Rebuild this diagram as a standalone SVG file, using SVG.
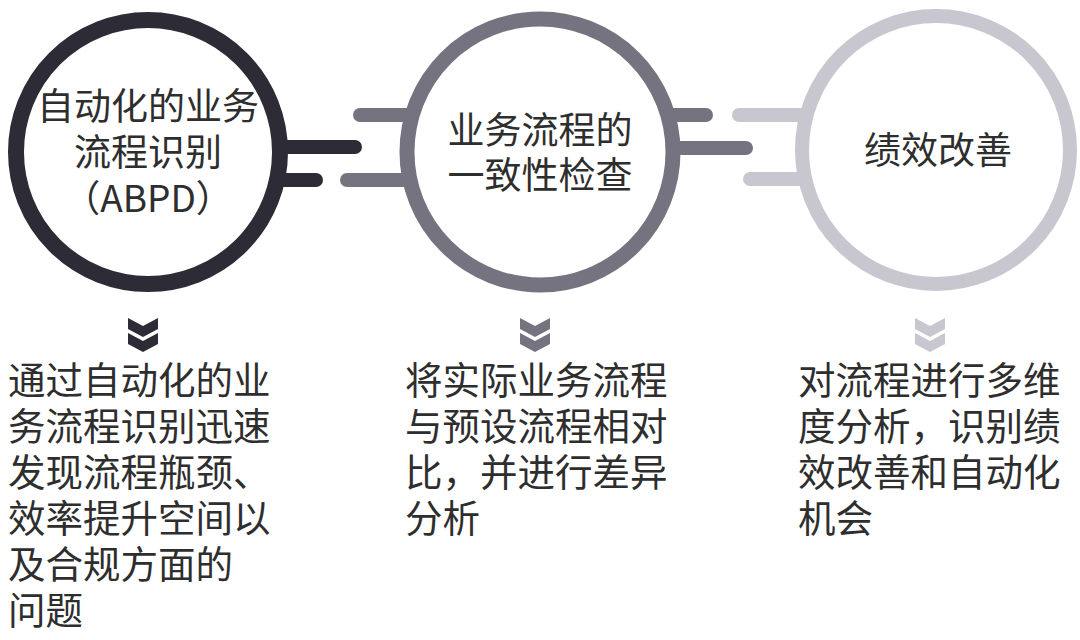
<svg xmlns="http://www.w3.org/2000/svg" xmlns:xlink="http://www.w3.org/1999/xlink" width="1080" height="640" viewBox="0 0 1080 640">
<style>
.t{font-family:"Noto Sans CJK SC","Noto Sans",sans-serif;font-size:37px;fill:#2e2e2e;}
.b{font-size:37.5px;}
.c{text-anchor:middle;}
.ln{fill:none;stroke-width:14;stroke-linecap:round;}
.ring{fill:#fff;}
</style>
<defs>
<path id="chev" d="M-15,0 L0,8 L15,0 L15,11 L0,19 L-15,11 Z"/>
</defs>
<rect width="1080" height="640" fill="#fff"/>
<g id="connectors">
<line class="ln" x1="280" y1="147" x2="355" y2="147" stroke="#2c2b36"/>
<line class="ln" x1="280" y1="180" x2="316" y2="180" stroke="#2c2b36"/>
<line class="ln" x1="360" y1="115" x2="420" y2="115" stroke="#75737f"/>
<line class="ln" x1="347" y1="180" x2="420" y2="180" stroke="#75737f"/>
<line class="ln" x1="660" y1="115" x2="706" y2="115" stroke="#75737f"/>
<line class="ln" x1="660" y1="148" x2="746" y2="148" stroke="#75737f"/>
<line class="ln" x1="739" y1="115" x2="810" y2="115" stroke="#c8c7d0"/>
<line class="ln" x1="750" y1="179" x2="810" y2="179" stroke="#c8c7d0"/>
</g>
<g id="node1">
<circle class="ring" cx="148" cy="152" r="132" stroke="#2c2b36" stroke-width="16"/>
<text class="t c" x="148" y="120">自动化的业务</text>
<text class="t c" x="148" y="166">流程识别</text>
<text class="t c" x="148" y="212">（ABPD）</text>
</g>
<g id="node2">
<circle class="ring" cx="540" cy="152" r="133" stroke="#75737f" stroke-width="15"/>
<text class="t c" x="540" y="144">业务流程的</text>
<text class="t c" x="540" y="189">一致性检查</text>
</g>
<g id="node3">
<circle class="ring" cx="936" cy="150" r="134" stroke="#c8c7d0" stroke-width="14"/>
<text class="t c" x="938" y="164">绩效改善</text>
</g>
<g id="chevrons">
<use xlink:href="#chev" x="143" y="318" fill="#2c2b36"/>
<use xlink:href="#chev" x="143" y="333" fill="#2c2b36"/>
<use xlink:href="#chev" x="535" y="318" fill="#75737f"/>
<use xlink:href="#chev" x="535" y="333" fill="#75737f"/>
<use xlink:href="#chev" x="930" y="318" fill="#c8c7d0"/>
<use xlink:href="#chev" x="930" y="333" fill="#c8c7d0"/>
</g>
<g id="desc1">
<text class="t b" x="8" y="394">通过自动化的业</text>
<text class="t b" x="8" y="440">务流程识别迅速</text>
<text class="t b" x="8" y="486">发现流程瓶颈、</text>
<text class="t b" x="8" y="532">效率提升空间以</text>
<text class="t b" x="8" y="578">及合规方面的</text>
<text class="t b" x="8" y="624">问题</text>
</g>
<g id="desc2">
<text class="t b" x="405" y="394">将实际业务流程</text>
<text class="t b" x="405" y="440">与预设流程相对</text>
<text class="t b" x="405" y="486">比，并进行差异</text>
<text class="t b" x="405" y="532">分析</text>
</g>
<g id="desc3">
<text class="t b" x="798" y="394">对流程进行多维</text>
<text class="t b" x="798" y="440">度分析，识别绩</text>
<text class="t b" x="798" y="486">效改善和自动化</text>
<text class="t b" x="798" y="532">机会</text>
</g>
</svg>
